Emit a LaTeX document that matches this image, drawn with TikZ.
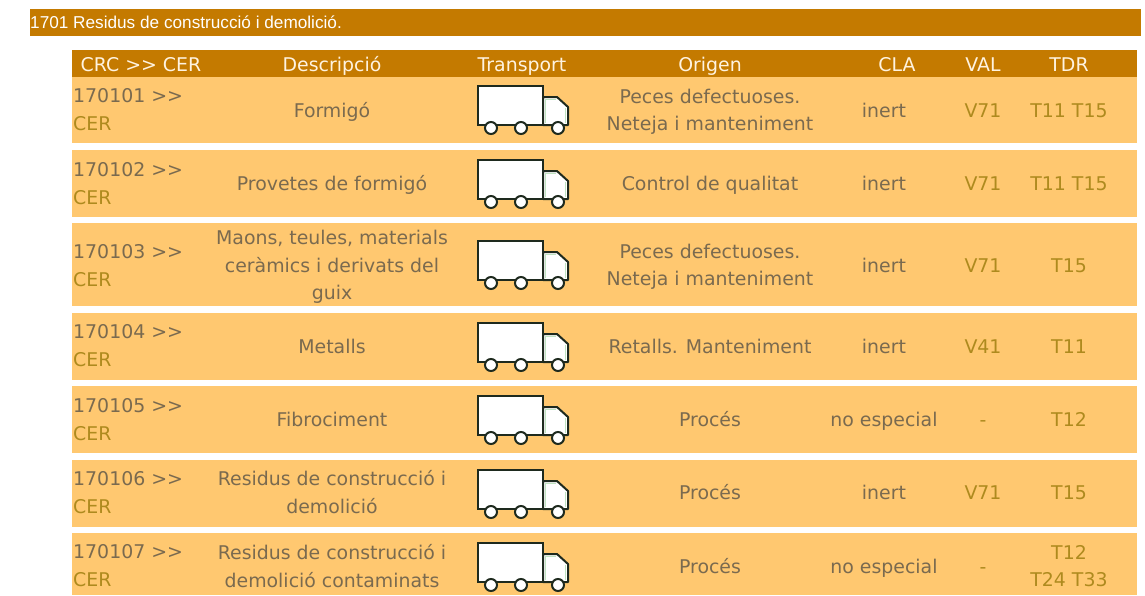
\documentclass[tikz,border=0pt]{standalone}
\usepackage{fontspec}
\setmainfont[Ligatures=NoCommon]{DejaVu Sans}
\newfontfamily\titlefont{Liberation Sans}
\definecolor{barc}{HTML}{C47A00}
\definecolor{rowc}{HTML}{FFC870}
\definecolor{txtc}{HTML}{7A6A4F}
\definecolor{linkc}{HTML}{AE8A1E}
\definecolor{headc}{HTML}{FFF3E0}
\definecolor{truckc}{HTML}{1E2A1E}
\definecolor{edgec}{HTML}{BFE3C0}
\newcommand{\bodyfont}{\fontsize{18.9}{27.5}\selectfont}
\newcommand{\gtgt}{>{}>}
\tikzset{
 x=1pt,y=-1pt,
 bar/.style={fill=barc,draw=none},
 rowbg/.style={fill=rowc,draw=none},
 head/.style={text=headc,font=\bodyfont,inner sep=0pt,anchor=center,yshift=-2pt,execute at begin node=\strut},
 cell/.style={text=txtc,font=\bodyfont,inner sep=0pt,align=center,anchor=center,yshift=-2pt,execute at begin node=\strut,execute at end node=\strut},
 val/.style={text=linkc,font=\bodyfont,inner sep=0pt,align=center,anchor=center,yshift=-2pt,execute at begin node=\strut,execute at end node=\strut},
 multi/.style={yshift=-2pt},
 code/.style={font=\bodyfont,inner sep=0pt,align=left,anchor=north west,yshift=-6.5pt,execute at begin node=\strut,execute at end node=\strut},
 pics/truck/.style={code={
   \draw[truckc,line width=2pt,fill=white,line join=round] (65,11) -- (79,11) -- (90,21) -- (90,39) -- (65,39) -- cycle;
   \draw[edgec,line width=1pt] (67.5,37) -- (67.5,13.5) -- (78,13.5) (87.5,22) -- (87.5,37);
   \draw[truckc,line width=2pt,fill=white] (0,0) rectangle (65,39);
   \foreach \wx in {13,43,80}{\draw[truckc,line width=2pt,fill=white] (\wx,42) circle[radius=6];}
 }}
}
\newcommand{\coderow}[3]{\node[code] (#1) at (73,#2) {\textcolor{txtc}{#3 \gtgt}\\[0pt]\textcolor{linkc}{CER}};}
\begin{document}
\begin{tikzpicture}
\useasboundingbox (0,0) rectangle (1145,595);
\fill[white] (0,0) rectangle (1145,595);
\fill[bar] (30,9) rectangle (1141,36);
\node[text=white,font=\titlefont\fontsize{17.2}{19}\selectfont,inner sep=0pt,anchor=west] (title) at (30,22.5) {1701 Residus de construcció i demolició.};
\fill[bar] (72,50) rectangle (1137,77);
\node[head] (h1) at (141,64) {CRC \gtgt{} CER};
\node[head] (h2) at (332,64) {Descripció};
\node[head] (h3) at (522,64) {Transport};
\node[head] (h4) at (710,64) {Origen};
\node[head] (h5) at (897,64) {CLA};
\node[head] (h6) at (983,64) {VAL};
\node[head] (h7) at (1069,64) {TDR};
\fill[rowbg] (72,77) rectangle (1137,143);
\fill[rowbg] (72,150) rectangle (1137,217);
\fill[rowbg] (72,223) rectangle (1137,306);
\fill[rowbg] (72,313) rectangle (1137,380);
\fill[rowbg] (72,386) rectangle (1137,453);
\fill[rowbg] (72,460) rectangle (1137,527);
\fill[rowbg] (72,533) rectangle (1137,595);
% row 1
\coderow{c1}{82}{170101}
\node[cell] (d1) at (332,110) {Formigó};
\pic at (478,86) {truck};
\node[cell,multi] (o1) at (710,110) {Peces defectuoses.\\Neteja i manteniment};
\node[cell] (k1) at (884,110) {inert};
\node[val] (v1) at (983,110) {V71};
\node[val] (t1) at (1069,110) {T11 T15};
% row 2
\coderow{c2}{156}{170102}
\node[cell] (d2) at (332,183) {Provetes de formigó};
\pic at (478,160) {truck};
\node[cell] (o2) at (710,183) {Control de qualitat};
\node[cell] (k2) at (884,183) {inert};
\node[val] (v2) at (983,183) {V71};
\node[val] (t2) at (1069,183) {T11 T15};
% row 3
\coderow{c3}{238}{170103}
\node[cell,multi] (d3) at (332,265) {Maons, teules, materials\\ceràmics i derivats del\\guix};
\pic at (478,241) {truck};
\node[cell,multi] (o3) at (710,265) {Peces defectuoses.\\Neteja i manteniment};
\node[cell] (k3) at (884,265) {inert};
\node[val] (v3) at (983,265) {V71};
\node[val] (t3) at (1069,265) {T15};
% row 4
\coderow{c4}{318}{170104}
\node[cell] (d4) at (332,346) {Metalls};
\pic at (478,323) {truck};
\node[cell] (o4) at (710,346) {Retalls. Manteniment};
\node[cell] (k4) at (884,346) {inert};
\node[val] (v4) at (983,346) {V41};
\node[val] (t4) at (1069,346) {T11};
% row 5
\coderow{c5}{392}{170105}
\node[cell] (d5) at (332,419) {Fibrociment};
\pic at (478,396) {truck};
\node[cell] (o5) at (710,419) {Procés};
\node[cell] (k5) at (884,419) {no especial};
\node[val] (v5) at (983,419) {-};
\node[val] (t5) at (1069,419) {T12};
% row 6
\coderow{c6}{465}{170106}
\node[cell,multi] (d6) at (332,492) {Residus de construcció i\\demolició};
\pic at (478,470) {truck};
\node[cell] (o6) at (710,492) {Procés};
\node[cell] (k6) at (884,492) {inert};
\node[val] (v6) at (983,492) {V71};
\node[val] (t6) at (1069,492) {T15};
% row 7
\coderow{c7}{538}{170107}
\node[cell,multi] (d7) at (332,566) {Residus de construcció i\\demolició contaminats};
\pic at (478,543) {truck};
\node[cell] (o7) at (710,566) {Procés};
\node[cell] (k7) at (884,566) {no especial};
\node[val] (v7) at (983,566) {-};
\node[val,multi] (t7) at (1069,566) {T12\\T24 T33};
\end{tikzpicture}
\end{document}
